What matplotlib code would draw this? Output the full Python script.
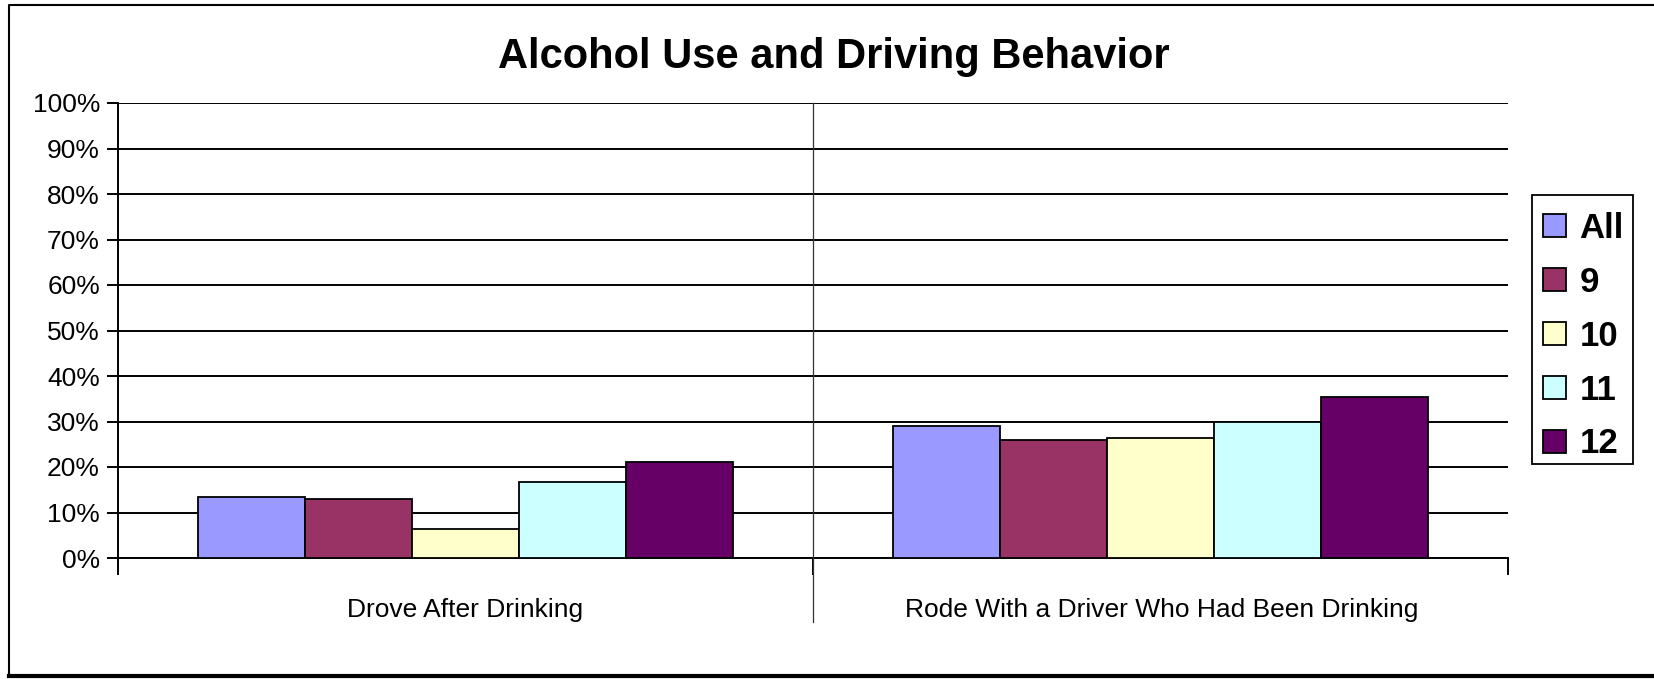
import numpy as np
import matplotlib.pyplot as plt
from matplotlib.lines import Line2D
from matplotlib.patches import Patch, Rectangle

plt.rcParams['font.family'] = ['Liberation Sans', 'DejaVu Sans']

# data (percent)
categories = ["Drove After Drinking", "Rode With a Driver Who Had Been Drinking"]
grades = ["All", "9", "10", "11", "12"]
all_vals = [13.4, 29.0]
g9_vals = [12.9, 25.9]
g10_vals = [6.4, 26.3]
g11_vals = [16.8, 29.8]
g12_vals = [21.0, 35.4]
colors = ["#9999FF", "#993366", "#FFFFCC", "#CCFFFF", "#660066"]

series = [all_vals, g9_vals, g10_vals, g11_vals, g12_vals]

W, H = 1654, 679
fig = plt.figure(figsize=(W / 100, H / 100), dpi=100)
ax = fig.add_axes([118 / W, 1 - 558 / H, (1508 - 118) / W, (558 - 103) / H])

x = np.arange(len(categories))
bw = 0.154
for i, vals in enumerate(series):
    ax.bar(x + (i - 2) * bw, vals, bw, color=colors[i],
           edgecolor="black", linewidth=1.3, zorder=3)

ax.set_xlim(-0.5, 1.5)
ax.set_ylim(0, 100)
ax.set_yticks(np.arange(0, 101, 10))
ax.set_yticklabels([f"{v}%" for v in range(0, 101, 10)], fontsize=19)
ax.yaxis.grid(True, color="black", linewidth=1.4, zorder=0)
ax.tick_params(axis="y", direction="out", length=8, width=1.4, pad=5)

ax.set_xticks([-0.5, 0.5, 1.5])
ax.set_xticklabels([])
ax.tick_params(axis="x", direction="out", length=12, width=1.4)
ax.spines["top"].set_visible(False)
ax.spines["right"].set_visible(False)
ax.spines["left"].set_linewidth(1.4)
ax.spines["bottom"].set_linewidth(1.4)

# category separator running down into the label area
fig.add_artist(Line2D([813 / W, 813 / W], [1 - 103 / H, 1 - 622 / H],
                      color="#333333", linewidth=0.9, transform=fig.transFigure))

for xc, lab in zip([465, 1162], categories):
    fig.text(xc / W, 1 - 610 / H, lab, ha="center", va="center", fontsize=19)

fig.text(834 / W, 1 - 57 / H, "Alcohol Use and Driving Behavior",
         ha="center", va="center", fontsize=30, fontweight="bold")

# legend entries without frame, box drawn separately
handles = [Patch(facecolor=c, edgecolor="black", linewidth=1.3) for c in colors]
leg = fig.legend(handles, grades, loc="upper left",
                 bbox_to_anchor=(1543 / W, 1 - 212 / H),
                 prop={"size": 25, "weight": "bold"},
                 handlelength=0.65, handleheight=0.65, handletextpad=0.4,
                 labelspacing=0.6, borderpad=0, borderaxespad=0,
                 frameon=False)
fig.add_artist(Rectangle((1532 / W, 1 - 464 / H), 101 / W, 269 / H,
                         fill=False, edgecolor="black", linewidth=1.3,
                         transform=fig.transFigure))

# outer chart border (right side cut off in the original)
fig.add_artist(Line2D([9 / W, 9 / W, 1.0], [1 - 676 / H, 1 - 5 / H, 1 - 5 / H],
                      color="black", linewidth=1.5, transform=fig.transFigure))
fig.add_artist(Line2D([9 / W, 1.0], [1 - 676 / H, 1 - 676 / H],
                      color="black", linewidth=3, transform=fig.transFigure))

fig.savefig("out.png", dpi=100)
